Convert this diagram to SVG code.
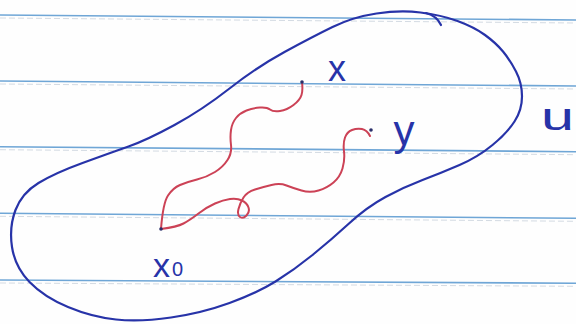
<svg xmlns="http://www.w3.org/2000/svg" width="576" height="324" viewBox="0 0 576 324">
<style>
.rule{stroke:#6fa6d6;stroke-width:1.6;fill:none}
.rule2{stroke:#d4dbe3;stroke-width:1;fill:none;stroke-dasharray:6 3}
.blue{stroke:#2733a8;stroke-width:2.2;fill:none;stroke-linecap:round;stroke-linejoin:round}
.red{stroke:#cc4256;stroke-width:2;fill:none;stroke-linecap:round;stroke-linejoin:round}
.lbl{font-family:"Liberation Sans",Arial,sans-serif;fill:#2733a8}
.dot{fill:#2a2f6a}
</style>
<rect width="576" height="324" fill="#fefefe"/>
<g id="paper">
<line class="rule" x1="0" y1="15" x2="576" y2="20"/>
<line class="rule" x1="0" y1="81" x2="576" y2="86"/>
<line class="rule" x1="0" y1="146.7" x2="576" y2="151.7"/>
<line class="rule" x1="0" y1="213.3" x2="576" y2="218.3"/>
<line class="rule" x1="0" y1="280" x2="576" y2="283.3"/>
<line class="rule2" x1="0" y1="18" x2="576" y2="23"/>
<line class="rule2" x1="0" y1="84" x2="576" y2="89"/>
<line class="rule2" x1="0" y1="149.7" x2="576" y2="154.7"/>
<line class="rule2" x1="0" y1="216.3" x2="576" y2="221.3"/>
<line class="rule2" x1="0" y1="283" x2="576" y2="286.3"/>
</g>
<g id="region-U">
<path class="blue" d="M420.5,12.5 Q441,15 457.5,21 Q474,27 485,35 Q496,43 503,51.5 Q510,60 516,71.5 Q522,83 522,96.5 Q522,110 514.5,121.5 Q507,133 492.5,145 Q478,157 459.5,165 Q441,173 422.5,180 Q404,187 385.5,197 Q367,207 349,223.5 Q331,240 312.5,255 Q294,270 275.5,281.5 Q257,293 229.5,303 Q202,313 171,317.5 Q140,322 116,319.5 Q92,317 68,307 Q44,297 29.5,282 Q15,267 12,247 Q9,227 15.5,210 Q22,193 38.5,183 Q55,173 82.5,163 Q110,153 128.5,146.5 Q147,140 174.5,125 Q202,110 229.5,88.5 Q257,67 284.5,52 Q312,37 332.5,27 Q353,17 376.5,13.5 Q400,10 420.5,12.5 Z"/>
<path class="blue" d="M426,13 Q437,16 441,25"/>
<text class="lbl" x="541" y="130" font-size="38" textLength="33" lengthAdjust="spacingAndGlyphs">u</text>
</g>
<g id="connectors">
<path id="path-x0-x" class="red" d="M161,229 Q163,203 168,195.5 Q173,188 180,185 Q187,182 197,179.5 Q207,177 215,172 Q223,167 227.5,160 Q232,153 231,145 Q230,137 231,130 Q232,123 236,118 Q240,113 246.5,110.5 Q253,108 260,107.5 Q267,107 270,109.5 Q273,112 280,111 Q287,110 293.5,105 Q300,100 301.5,95 Q303,90 302,82"/>
<path id="path-x0-y" class="red" d="M161,229 Q177,227 183.5,223.5 Q190,220 198.5,213.5 Q207,207 215,203.5 Q223,200 230,199 Q237,198 242,200.5 Q247,203 248.5,207.5 Q250,212 246.5,215.5 Q243,219 240,217 Q237,215 238.5,209 Q240,203 243.5,197.5 Q247,192 255,189.5 Q263,187 271.5,185 Q280,183 286.5,185.5 Q293,188 301.5,190.5 Q310,193 318.5,190.5 Q327,188 333.5,182.5 Q340,177 342.5,168.5 Q345,160 344,151.5 Q343,143 345,137.5 Q347,132 352,130 Q357,128 362,129 Q367,130 370,136"/>
</g>
<g id="node-x0">
<circle class="dot" cx="161" cy="229" r="1.8"/>
<text class="lbl" x="153" y="277" font-size="34">x</text>
<text class="lbl" x="172" y="276" font-size="20">0</text>
</g>
<g id="node-x">
<circle class="dot" cx="302" cy="82" r="1.8"/>
<text class="lbl" x="337" y="81" font-size="36" text-anchor="middle">x</text>
</g>
<g id="node-y">
<circle class="dot" cx="371" cy="130" r="1.8"/>
<text class="lbl" x="404" y="145" font-size="42" text-anchor="middle">y</text>
</g>
</svg>
